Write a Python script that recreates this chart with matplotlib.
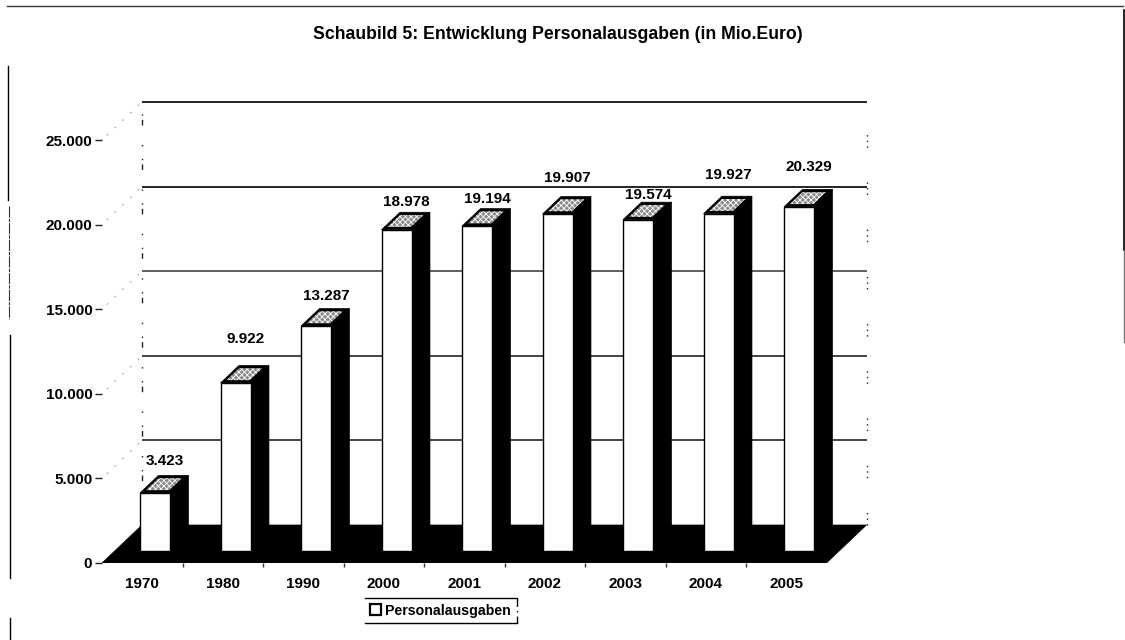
import matplotlib
matplotlib.use("Agg")
import matplotlib.pyplot as plt
from matplotlib.lines import Line2D
from matplotlib.patches import Patch, Polygon

plt.rcParams["font.family"] = ["Liberation Sans", "DejaVu Sans"]
plt.rcParams["font.weight"] = "bold"
plt.rcParams["hatch.linewidth"] = 0.6

# chart data
years = ["1970", "1980", "1990", "2000", "2001", "2002", "2003", "2004", "2005"]
personal = [3423, 9922, 13287, 18978, 19194, 19907, 19574, 19927, 20329]
value_labels = ["3.423", "9.922", "13.287", "18.978", "19.194", "19.907", "19.574", "19.927", "20.329"]
y_ticks = [0, 5000, 10000, 15000, 20000, 25000]
y_tick_labels = ["0", "5.000", "10.000", "15.000", "20.000", "25.000"]

# label shift from bar top in pixels, the original has them placed by hand
label_shift = [14, 26, 13, 10, 10, 19, 7, 21, 22]

W, H = 1125, 640
CAT_PX = 80.5
VAL_PX = 0.01692
DEPTH_X = 40 / CAT_PX       # how far back wall is shifted, in category units
DEPTH_Y = 38 / VAL_PX       # same in value units
BAR_W = 0.373
BAR_D0, BAR_D1 = 0.32, 0.78


def pt(x, v, d):
    # fake 3d, depth d goes from 0 (front) to 1 (back wall)
    return (x + d * DEPTH_X, v + d * DEPTH_Y)


def hline_px(x0, x1, y, **kw):
    fig.add_artist(Line2D([x0 / W, x1 / W], [1 - y / H, 1 - y / H], color=kw.pop("color", "black"), **kw))


def vline_px(x, y0, y1, **kw):
    fig.add_artist(Line2D([x / W, x / W], [1 - y0 / H, 1 - y1 / H], color=kw.pop("color", "black"), **kw))


fig = plt.figure(figsize=(W / 100, H / 100), dpi=100)
n = len(years)
ax = fig.add_axes([102 / W, 1 - 563 / H, (n * CAT_PX + 40) / W, 461 / H])
ax.set_xlim(0, n + DEPTH_X)
ax.set_ylim(0, 461 / VAL_PX)
for s in ax.spines.values():
    s.set_visible(False)
ax.patch.set_visible(False)

# back wall grid
grid_colors = {5000: "#222222", 10000: "#222222", 15000: "#444444", 20000: "black", 25000: "black"}
for v in y_ticks[1:]:
    a, b = pt(0, v, 1), pt(n, v, 1)
    ax.plot([a[0], b[0]], [a[1], b[1]], color=grid_colors[v], lw=1.2, zorder=1, solid_capstyle="butt", clip_on=False)
    a = pt(0, v, 0.12)
    b = pt(0, v, 1)
    ax.plot([a[0], b[0]], [a[1], b[1]], color="#999999", lw=0.7, ls=(0, (2, 9)), zorder=1)

# broken wall edges, scan lost most of them
a, b = pt(0, 0, 1), pt(0, y_ticks[-1], 1)
ax.plot([a[0], b[0]], [a[1], b[1]], color="#222222", lw=1, ls=(0, (4, 3, 1, 9, 1, 14)), zorder=1, clip_on=False)
a, b = pt(n, 0, 1), pt(n, y_ticks[-1], 1)
ax.plot([a[0], b[0]], [a[1], b[1]], color="#222222", lw=1, ls=(0, (1, 3, 1, 3, 1, 25)), zorder=1, clip_on=False)

# floor
floor = [pt(0, 0, 0), pt(n, 0, 0), pt(n, 0, 1), pt(0, 0, 1)]
ax.add_patch(Polygon(floor, closed=True, fc="black", ec="black", lw=0.5, zorder=2))

# bars
for i, v in enumerate(personal):
    x0 = i + 0.5 - BAR_W / 2
    x1 = i + 0.5 + BAR_W / 2
    side = [pt(x1, 0, BAR_D0), pt(x1, 0, BAR_D1), pt(x1, v, BAR_D1), pt(x1, v, BAR_D0)]
    top = [pt(x0, v, BAR_D0), pt(x1, v, BAR_D0), pt(x1, v, BAR_D1), pt(x0, v, BAR_D1)]
    front = [pt(x0, 0, BAR_D0), pt(x1, 0, BAR_D0), pt(x1, v, BAR_D0), pt(x0, v, BAR_D0)]
    ax.add_patch(Polygon(side, closed=True, fc="black", ec="black", lw=0.5, zorder=3))
    ax.add_patch(Polygon(top, closed=True, fc="black", ec="black", lw=0.5, zorder=3))
    ax.add_patch(Polygon(front, closed=True, fc="white", ec="black", lw=1, zorder=4))

    # mottled inner part of the lid
    w = x1 - x0
    d0 = BAR_D0 + 0.16 * (BAR_D1 - BAR_D0)
    d1 = BAR_D0 + 0.84 * (BAR_D1 - BAR_D0)
    lid = [pt(x0 + 0.1 * w, v, d0), pt(x1 - 0.12 * w, v, d0), pt(x1 - 0.12 * w, v, d1), pt(x0 + 0.1 * w, v, d1)]
    ax.add_patch(Polygon(lid, closed=True, fc="#8a8a8a", ec="white", lw=0, hatch="xxxxxx", zorder=5))

    lx = pt(i + 0.5, v, (BAR_D0 + BAR_D1) / 2)[0]
    ly = pt(i + 0.5, v, BAR_D1)[1]
    ax.annotate(value_labels[i], xy=(lx, ly), xytext=(0.7, label_shift[i] * 0.72), textcoords="offset points",
                ha="center", va="center", fontsize=11, color="black", zorder=6, annotation_clip=False)

# axes ticks
ax.set_yticks(y_ticks)
ax.set_yticklabels(y_tick_labels)
ax.tick_params(axis="y", length=5, width=1, pad=2, labelsize=11, color="#222222")
ax.set_xticks([i + 0.5 for i in range(n)])
ax.set_xticklabels(years)
ax.tick_params(axis="x", which="major", length=0, pad=10, labelsize=11)
ax.set_xticks(list(range(1, n)), minor=True)
ax.tick_params(axis="x", which="minor", length=3, width=1, color="#333333")

fig.text(558 / W, 1 - 34.5 / H, "Schaubild 5: Entwicklung Personalausgaben (in Mio.Euro)",
         ha="center", va="center", fontsize=12.7, color="black")

# legend, scan only kept top and bottom of the frame
leg = fig.legend(handles=[Patch(fc="white", ec="black", lw=1.6, label="Personalausgaben")],
                 loc="center left", bbox_to_anchor=(370 / W, 1 - 610.5 / H), frameon=False,
                 fontsize=10.2, handlelength=0.75, handleheight=0.75, handletextpad=0.3, borderpad=0, borderaxespad=0)
hline_px(365, 517, 598, lw=1)
hline_px(365, 517, 623, lw=1)
vline_px(517, 598, 623, lw=1, ls=(0, (6, 3, 1, 3)))

# scan border
hline_px(7, 1123, 6, lw=1, color="#333333")
vline_px(8, 66, 200, lw=1)
vline_px(8.5, 206, 319, lw=0.8, color="#333333", ls=(0, (10, 1, 3, 1)))
vline_px(9.5, 335, 578, lw=1)
vline_px(10, 618, 640, lw=1)
vline_px(1124, 10, 250, lw=1.2)
vline_px(1124, 250, 342, lw=1, color="#777777")

plt.savefig("out.png", dpi=100)
